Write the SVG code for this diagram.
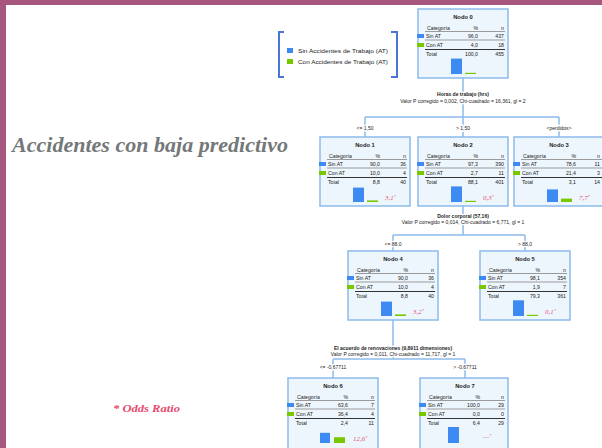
<svg xmlns="http://www.w3.org/2000/svg" width="602" height="448" viewBox="0 0 602 448">
<style>
.box{fill:#eef6fd;stroke:#8dbbea;stroke-width:1.5}
.nt{font-family:"Liberation Sans",Arial,sans-serif;font-size:5.8px;font-weight:bold;text-anchor:middle;fill:#222}
.tx{font-family:"Liberation Sans",Arial,sans-serif;font-size:5.2px;fill:#222}
.e{text-anchor:end}
.thin{stroke:#9a9a9a;stroke-width:1}
.thick{stroke:#333;stroke-width:1.2}
.mb{fill:#3d8bf2}
.mg{fill:#78c800}
.or{font-family:"Liberation Serif","Times New Roman",serif;font-size:7px;font-style:italic;fill:#e8507a}
.sup{font-size:4.5px}
.con{stroke:#8dbbea;stroke-width:1.5;fill:none}
.lab{font-family:"Liberation Sans",Arial,sans-serif;font-size:5px;text-anchor:middle;fill:#222;stroke:#fff;stroke-width:2.5px;paint-order:stroke}
.lb{font-weight:bold}
.leg{font-family:"Liberation Sans",Arial,sans-serif;font-size:5.8px;fill:#222}
</style>
<rect width="602" height="448" fill="#ffffff"/>
<rect x="0" y="0" width="602" height="5" fill="#a7577d"/>
<rect x="0" y="0" width="6" height="448" fill="#a7577d"/>
<text x="12" y="152" font-family="'Liberation Serif','Times New Roman',serif" font-size="20" font-style="italic" font-weight="bold" fill="#747878" textLength="276" lengthAdjust="spacingAndGlyphs">Accidentes con baja predictivo</text>
<text x="113" y="412" font-family="'Liberation Serif','Times New Roman',serif" font-size="10" font-style="italic" font-weight="bold" fill="#e64a6e" textLength="67" lengthAdjust="spacingAndGlyphs">* Odds Ratio</text>

<g id="legend">
<path d="M284 32 H279 V77 H284" fill="none" stroke="#4a74d8" stroke-width="2"/>
<path d="M391 32 H397 V77 H391" fill="none" stroke="#4a74d8" stroke-width="2"/>
<rect x="287" y="48" width="6" height="5" class="mb"/>
<text class="leg" x="298" y="52.5" textLength="90" lengthAdjust="spacingAndGlyphs">Sin Accidentes de Trabajo (AT)</text>
<rect x="287" y="59" width="6" height="5" class="mg"/>
<text class="leg" x="298" y="63.5" textLength="90" lengthAdjust="spacingAndGlyphs">Con Accidentes de Trabajo (AT)</text>
</g>

<g id="connectors">
<path class="con" d="M463 78 V117 M365 117 H559 M365 117 V137 M463 117 V137 M559 117 V137"/>
<path class="con" d="M463 206 V235 M393 235 H525 M393 235 V251 M525 235 V251"/>
<path class="con" d="M393 320 V359 M333 359 H465 M333 359 V378 M465 359 V378"/>
<text class="lab lb" x="463" y="96">Horas de trabajo (hrs)</text>
<text class="lab" x="463" y="102.5">Valor P corregido = 0,002, Chi-cuadrado = 16,361, gl = 2</text>
<text class="lab" x="365" y="130">&lt;= 1,50</text>
<text class="lab" x="463" y="130">&gt; 1,50</text>
<text class="lab" x="559" y="130">&lt;perdidos&gt;</text>
<text class="lab lb" x="463" y="218">Dolor corporal (57,16)</text>
<text class="lab" x="463" y="224">Valor P corregido = 0,014, Chi-cuadrado = 6,771, gl = 1</text>
<text class="lab" x="393" y="246">&lt;= 88,0</text>
<text class="lab" x="525" y="246">&gt; 88,0</text>
<text class="lab lb" x="393" y="350">El acuerdo de renovaciones (9,8911 dimensiones)</text>
<text class="lab" x="393" y="356">Valor P corregido = 0,011, Chi-cuadrado = 11,717, gl = 1</text>
<text class="lab" x="333" y="368.5">&lt;= -0,67711</text>
<text class="lab" x="465" y="368.5">&gt; -0,67711</text>
</g>

<g id="node0">
<rect class="box" x="418" y="9" width="90" height="69"/>
<text class="nt" x="463" y="19">Nodo 0</text>
<text class="tx" x="427" y="29.5">Categoría</text><text class="tx e" x="478" y="29.5">%</text><text class="tx e" x="504" y="29.5">n</text>
<line class="thin" x1="425" y1="31.5" x2="505" y2="31.5"/>
<rect class="mb" x="417" y="34" width="7" height="4"/>
<text class="tx" x="426" y="37.5">Sin AT</text><text class="tx e" x="478" y="37.5">96,0</text><text class="tx e" x="504" y="37.5">437</text>
<line class="thin" x1="425" y1="40" x2="505" y2="40"/>
<rect class="mg" x="417" y="43" width="7" height="4"/>
<text class="tx" x="426" y="46.5">Con AT</text><text class="tx e" x="478" y="46.5">4,0</text><text class="tx e" x="504" y="46.5">18</text>
<line class="thick" x1="425" y1="49.5" x2="505" y2="49.5"/>
<text class="tx" x="426" y="56">Total</text><text class="tx e" x="478" y="56">100,0</text><text class="tx e" x="504" y="56">455</text>
<rect class="mb" x="451" y="58.6" width="11" height="15.4"/>
<rect class="mg" x="465" y="72.8" width="11" height="1.2"/>
</g>

<g id="node1">
<rect class="box" x="320" y="137" width="90" height="69"/>
<text class="nt" x="365" y="147">Nodo 1</text>
<text class="tx" x="329" y="157.5">Categoría</text><text class="tx e" x="380" y="157.5">%</text><text class="tx e" x="406" y="157.5">n</text>
<line class="thin" x1="327" y1="159.5" x2="407" y2="159.5"/>
<rect class="mb" x="319" y="162" width="7" height="4"/>
<text class="tx" x="328" y="165.5">Sin AT</text><text class="tx e" x="380" y="165.5">90,0</text><text class="tx e" x="406" y="165.5">36</text>
<line class="thin" x1="327" y1="168" x2="407" y2="168"/>
<rect class="mg" x="319" y="171" width="7" height="4"/>
<text class="tx" x="328" y="174.5">Con AT</text><text class="tx e" x="380" y="174.5">10,0</text><text class="tx e" x="406" y="174.5">4</text>
<line class="thick" x1="327" y1="177.5" x2="407" y2="177.5"/>
<text class="tx" x="328" y="184">Total</text><text class="tx e" x="380" y="184">8,8</text><text class="tx e" x="406" y="184">40</text>
<rect class="mb" x="353" y="187.6" width="11" height="14.4"/>
<rect class="mg" x="367" y="200.4" width="11" height="1.6"/>
<text class="or" x="385" y="200">3,1<tspan class="sup" dy="-2">*</tspan></text>
</g>

<g id="node2">
<rect class="box" x="418" y="137" width="90" height="69"/>
<text class="nt" x="463" y="147">Nodo 2</text>
<text class="tx" x="427" y="157.5">Categoría</text><text class="tx e" x="478" y="157.5">%</text><text class="tx e" x="504" y="157.5">n</text>
<line class="thin" x1="425" y1="159.5" x2="505" y2="159.5"/>
<rect class="mb" x="417" y="162" width="7" height="4"/>
<text class="tx" x="426" y="165.5">Sin AT</text><text class="tx e" x="478" y="165.5">97,3</text><text class="tx e" x="504" y="165.5">390</text>
<line class="thin" x1="425" y1="168" x2="505" y2="168"/>
<rect class="mg" x="417" y="171" width="7" height="4"/>
<text class="tx" x="426" y="174.5">Con AT</text><text class="tx e" x="478" y="174.5">2,7</text><text class="tx e" x="504" y="174.5">11</text>
<line class="thick" x1="425" y1="177.5" x2="505" y2="177.5"/>
<text class="tx" x="426" y="184">Total</text><text class="tx e" x="478" y="184">88,1</text><text class="tx e" x="504" y="184">401</text>
<rect class="mb" x="451" y="186.4" width="11" height="15.6"/>
<rect class="mg" x="465" y="200.8" width="11" height="1.2"/>
<text class="or" x="483" y="200">0,3<tspan class="sup" dy="-2">*</tspan></text>
</g>

<g id="node3">
<rect class="box" x="514" y="137" width="90" height="69"/>
<text class="nt" x="559" y="147">Nodo 3</text>
<text class="tx" x="523" y="157.5">Categoría</text><text class="tx e" x="576" y="157.5">%</text><text class="tx e" x="600" y="157.5">n</text>
<line class="thin" x1="521" y1="159.5" x2="602" y2="159.5"/>
<rect class="mb" x="513" y="162" width="7" height="4"/>
<text class="tx" x="522" y="165.5">Sin AT</text><text class="tx e" x="576" y="165.5">78,6</text><text class="tx e" x="600" y="165.5">11</text>
<line class="thin" x1="521" y1="168" x2="602" y2="168"/>
<rect class="mg" x="513" y="171" width="7" height="4"/>
<text class="tx" x="522" y="174.5">Con AT</text><text class="tx e" x="576" y="174.5">21,4</text><text class="tx e" x="600" y="174.5">3</text>
<line class="thick" x1="521" y1="177.5" x2="602" y2="177.5"/>
<text class="tx" x="522" y="184">Total</text><text class="tx e" x="576" y="184">3,1</text><text class="tx e" x="600" y="184">14</text>
<rect class="mb" x="547" y="189.4" width="11" height="12.6"/>
<rect class="mg" x="561" y="198.6" width="11" height="3.4"/>
<text class="or" x="579" y="200">7,7<tspan class="sup" dy="-2">*</tspan></text>
</g>

<g id="node4">
<rect class="box" x="348" y="251" width="90" height="69"/>
<text class="nt" x="393" y="261">Nodo 4</text>
<text class="tx" x="357" y="271.5">Categoría</text><text class="tx e" x="408" y="271.5">%</text><text class="tx e" x="434" y="271.5">n</text>
<line class="thin" x1="355" y1="273.5" x2="435" y2="273.5"/>
<rect class="mb" x="347" y="276" width="7" height="4"/>
<text class="tx" x="356" y="279.5">Sin AT</text><text class="tx e" x="408" y="279.5">90,0</text><text class="tx e" x="434" y="279.5">36</text>
<line class="thin" x1="355" y1="282" x2="435" y2="282"/>
<rect class="mg" x="347" y="285" width="7" height="4"/>
<text class="tx" x="356" y="288.5">Con AT</text><text class="tx e" x="408" y="288.5">10,0</text><text class="tx e" x="434" y="288.5">4</text>
<line class="thick" x1="355" y1="291.5" x2="435" y2="291.5"/>
<text class="tx" x="356" y="298">Total</text><text class="tx e" x="408" y="298">8,8</text><text class="tx e" x="434" y="298">40</text>
<rect class="mb" x="381" y="301.6" width="11" height="14.4"/>
<rect class="mg" x="395" y="314.4" width="11" height="1.6"/>
<text class="or" x="413" y="314">3,2<tspan class="sup" dy="-2">*</tspan></text>
</g>

<g id="node5">
<rect class="box" x="480" y="251" width="90" height="69"/>
<text class="nt" x="525" y="261">Nodo 5</text>
<text class="tx" x="489" y="271.5">Categoría</text><text class="tx e" x="540" y="271.5">%</text><text class="tx e" x="566" y="271.5">n</text>
<line class="thin" x1="487" y1="273.5" x2="567" y2="273.5"/>
<rect class="mb" x="479" y="276" width="7" height="4"/>
<text class="tx" x="488" y="279.5">Sin AT</text><text class="tx e" x="540" y="279.5">98,1</text><text class="tx e" x="566" y="279.5">354</text>
<line class="thin" x1="487" y1="282" x2="567" y2="282"/>
<rect class="mg" x="479" y="285" width="7" height="4"/>
<text class="tx" x="488" y="288.5">Con AT</text><text class="tx e" x="540" y="288.5">1,9</text><text class="tx e" x="566" y="288.5">7</text>
<line class="thick" x1="487" y1="291.5" x2="567" y2="291.5"/>
<text class="tx" x="488" y="298">Total</text><text class="tx e" x="540" y="298">79,3</text><text class="tx e" x="566" y="298">361</text>
<rect class="mb" x="513" y="300.3" width="11" height="15.7"/>
<rect class="mg" x="527" y="314.8" width="11" height="1.2"/>
<text class="or" x="545" y="314">0,1<tspan class="sup" dy="-2">*</tspan></text>
</g>

<g id="node6">
<rect class="box" x="288" y="378" width="90" height="72"/>
<text class="nt" x="333" y="388">Nodo 6</text>
<text class="tx" x="297" y="398.5">Categoría</text><text class="tx e" x="348" y="398.5">%</text><text class="tx e" x="374" y="398.5">n</text>
<line class="thin" x1="295" y1="400.5" x2="375" y2="400.5"/>
<rect class="mb" x="287" y="403" width="7" height="4"/>
<text class="tx" x="296" y="406.5">Sin AT</text><text class="tx e" x="348" y="406.5">63,6</text><text class="tx e" x="374" y="406.5">7</text>
<line class="thin" x1="295" y1="409" x2="375" y2="409"/>
<rect class="mg" x="287" y="412" width="7" height="4"/>
<text class="tx" x="296" y="415.5">Con AT</text><text class="tx e" x="348" y="415.5">36,4</text><text class="tx e" x="374" y="415.5">4</text>
<line class="thick" x1="295" y1="418.5" x2="375" y2="418.5"/>
<text class="tx" x="296" y="425">Total</text><text class="tx e" x="348" y="425">2,4</text><text class="tx e" x="374" y="425">11</text>
<rect class="mb" x="320" y="432.8" width="10" height="10.2"/>
<rect class="mg" x="334" y="437.2" width="11" height="5.8"/>
<text class="or" x="353" y="441">12,6<tspan class="sup" dy="-2">*</tspan></text>
</g>

<g id="node7">
<rect class="box" x="420" y="378" width="88" height="72"/>
<text class="nt" x="465" y="388">Nodo 7</text>
<text class="tx" x="429" y="398.5">Categoría</text><text class="tx e" x="480" y="398.5">%</text><text class="tx e" x="504" y="398.5">n</text>
<line class="thin" x1="427" y1="400.5" x2="505" y2="400.5"/>
<rect class="mb" x="419" y="403" width="7" height="4"/>
<text class="tx" x="428" y="406.5">Sin AT</text><text class="tx e" x="480" y="406.5">100,0</text><text class="tx e" x="504" y="406.5">29</text>
<line class="thin" x1="427" y1="409" x2="505" y2="409"/>
<rect class="mg" x="419" y="412" width="7" height="4"/>
<text class="tx" x="428" y="415.5">Con AT</text><text class="tx e" x="480" y="415.5">0,0</text><text class="tx e" x="504" y="415.5">0</text>
<line class="thick" x1="427" y1="418.5" x2="505" y2="418.5"/>
<text class="tx" x="428" y="425">Total</text><text class="tx e" x="480" y="425">6,4</text><text class="tx e" x="504" y="425">29</text>
<rect class="mb" x="448" y="427" width="11" height="16"/>
<text class="or" x="483" y="439">—<tspan class="sup" dy="-2">*</tspan></text>
</g>
</svg>
